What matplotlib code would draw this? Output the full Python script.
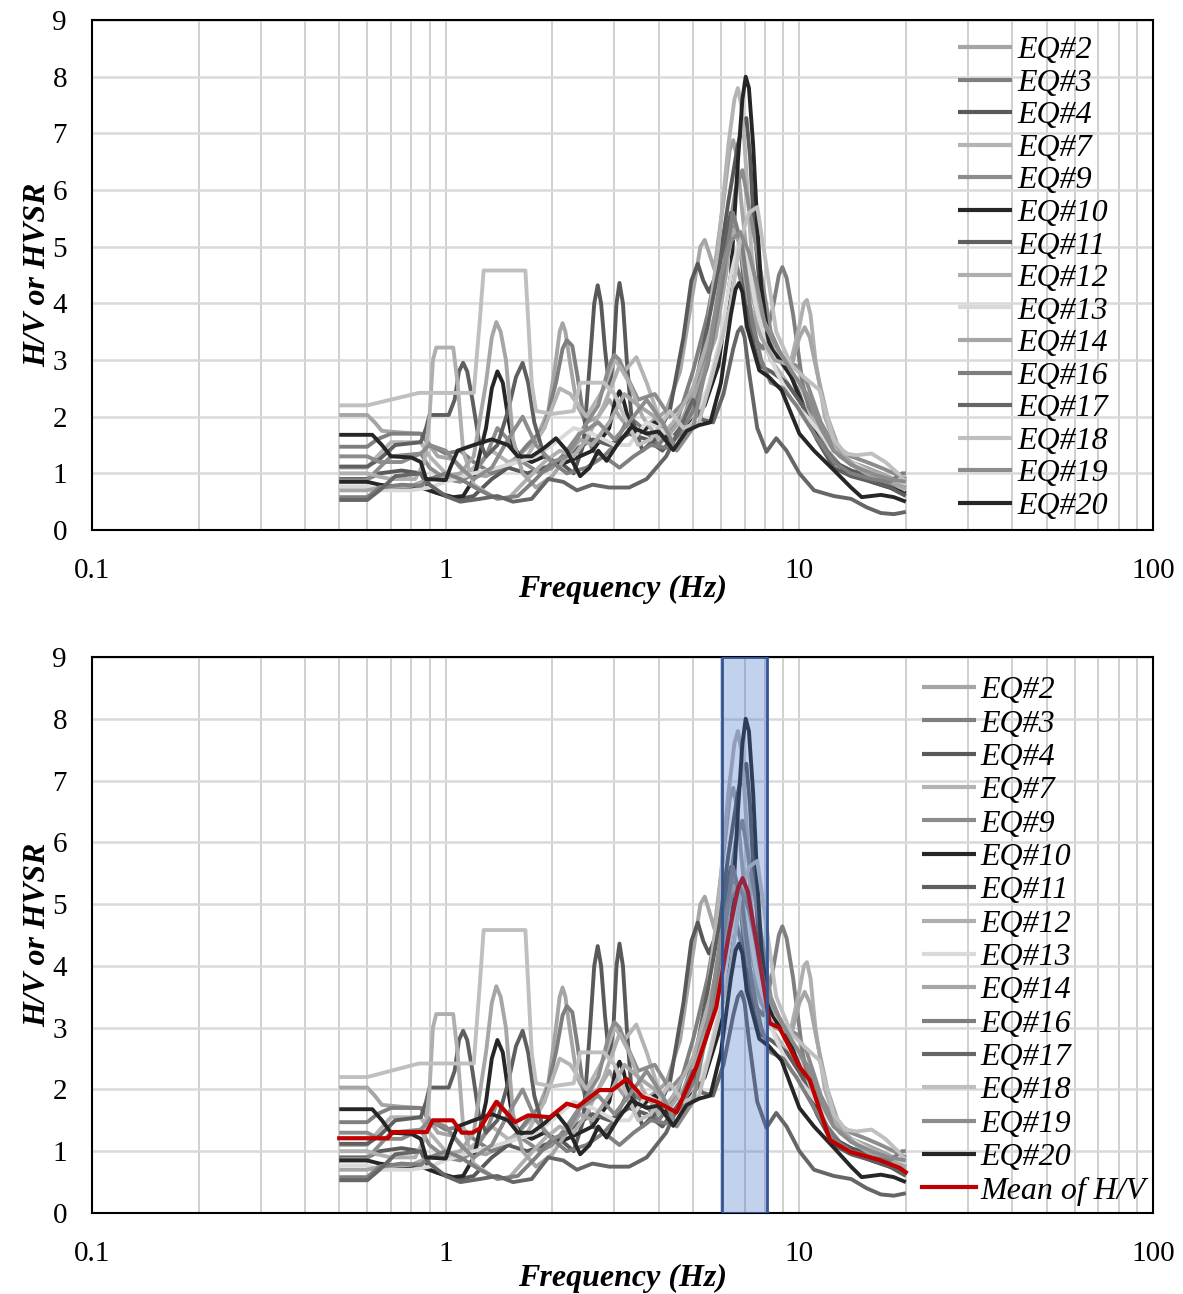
"""
H/V spectral ratio curves for the recorded events, with the mean H/V
and the predominant-frequency band highlighted in the lower panel.
"""

import matplotlib
matplotlib.use("Agg")
import matplotlib.pyplot as plt
from matplotlib.ticker import FixedLocator, LogLocator, NullFormatter

plt.rcParams["font.family"] = ["Liberation Serif", "DejaVu Serif"]

# ---------------------------------------------------------------------------
# Data (frequency in Hz, H/V amplitude)
# ---------------------------------------------------------------------------

eq_names = ["EQ#2", "EQ#3", "EQ#4", "EQ#7", "EQ#9", "EQ#10", "EQ#11", "EQ#12",
            "EQ#13", "EQ#14", "EQ#16", "EQ#17", "EQ#18", "EQ#19", "EQ#20"]

eq_colors = ["#a5a5a5", "#7f7f7f", "#595959", "#b4b4b4", "#8c8c8c", "#262626",
             "#5f5f5f", "#afafaf", "#d9d9d9", "#a6a6a6", "#7f7f7f", "#666666",
             "#bfbfbf", "#8c8c8c", "#262626"]

eq2 = [(0.5, 2.03), (0.6, 2.03), (0.63, 1.9), (0.66, 1.75), (0.75, 1.72), (0.85, 1.7),
       (0.9, 1.5), (0.95, 1.3), (1.05, 1.25), (1.15, 1.0), (1.3, 0.95), (1.45, 1.1),
       (1.6, 1.3), (1.8, 1.6), (1.95, 2.1), (2.05, 3.0), (2.1, 3.5), (2.14, 3.65),
       (2.18, 3.5), (2.24, 3.0), (2.35, 2.2), (2.5, 1.9), (2.7, 2.0), (2.9, 2.3),
       (3.1, 2.0), (3.4, 1.7), (3.8, 1.9), (4.2, 2.1), (4.6, 2.8), (5.0, 4.2),
       (5.25, 5.0), (5.4, 5.12), (5.55, 4.9), (5.75, 4.6), (6.1, 5.8), (6.35, 6.7),
       (6.5, 6.88), (6.65, 6.6), (6.9, 5.6), (7.3, 4.2), (7.8, 3.5), (8.4, 3.2),
       (9.0, 3.0), (10.0, 2.6), (11.0, 2.0), (12.5, 1.4), (14, 1.2), (15.5, 1.1),
       (17, 1.0), (18.5, 0.9), (20, 0.8)]

eq3 = [(0.5, 1.47), (0.6, 1.47), (0.64, 1.6), (0.7, 1.7), (0.85, 1.7), (0.9, 1.5),
       (1.0, 1.35), (1.1, 1.4), (1.2, 1.2), (1.35, 1.0), (1.5, 1.1), (1.7, 1.5),
       (1.9, 1.8), (2.05, 2.6), (2.14, 3.2), (2.2, 3.35), (2.28, 3.25), (2.36, 2.7),
       (2.45, 2.0), (2.6, 1.4), (2.8, 1.3), (3.0, 1.5), (3.3, 2.0), (3.6, 1.8),
       (4.0, 1.5), (4.5, 1.9), (5.0, 2.8), (5.5, 3.8), (5.9, 4.8), (6.2, 5.24),
       (6.5, 4.9), (6.9, 4.3), (7.4, 3.4), (7.9, 3.2), (8.4, 3.9), (8.75, 4.5),
       (8.95, 4.64), (9.2, 4.45), (9.6, 3.8), (10.2, 2.6), (11, 1.8), (12, 1.4),
       (13, 1.15), (14.5, 1.0), (16, 0.9), (18, 0.8), (20, 0.75)]

eq4 = [(0.5, 0.9), (0.6, 0.9), (0.65, 1.0), (0.75, 1.05), (0.85, 1.0), (0.9, 0.7),
       (1.0, 0.6), (1.1, 0.55), (1.2, 0.6), (1.35, 0.9), (1.5, 1.1), (1.7, 1.0),
       (1.9, 1.1), (2.1, 1.2), (2.3, 1.0), (2.45, 1.5), (2.56, 3.0), (2.63, 4.0),
       (2.69, 4.32), (2.75, 4.0), (2.82, 3.2), (2.9, 2.5), (2.98, 3.0), (3.04, 4.0),
       (3.1, 4.36), (3.17, 4.0), (3.25, 3.0), (3.35, 2.0), (3.6, 1.4), (3.9, 1.6),
       (4.3, 2.1), (4.7, 3.4), (4.95, 4.4), (5.16, 4.7), (5.35, 4.4), (5.55, 4.2),
       (5.9, 4.6), (6.3, 5.8), (6.7, 6.8), (6.95, 7.2), (7.08, 7.27), (7.25, 6.6),
       (7.4, 5.6), (7.8, 4.0), (8.3, 3.3), (9.0, 3.0), (10, 2.4), (11, 1.7),
       (12.5, 1.2), (14, 1.05), (16, 0.95), (18, 0.85), (20, 0.75)]

eq7 = [(0.5, 1.1), (0.6, 1.1), (0.64, 1.3), (0.7, 1.55), (0.85, 1.55), (0.9, 1.3),
       (1.0, 1.0), (1.1, 0.9), (1.2, 1.1), (1.35, 1.4), (1.5, 1.2), (1.7, 1.3),
       (1.9, 1.8), (2.1, 2.5), (2.25, 2.4), (2.5, 2.0), (2.8, 2.5), (3.0, 3.0),
       (3.2, 2.8), (3.46, 3.05), (3.7, 2.6), (4.0, 2.0), (4.4, 1.6), (4.9, 2.0),
       (5.4, 3.2), (5.9, 5.0), (6.3, 6.8), (6.55, 7.6), (6.7, 7.8), (6.85, 7.5),
       (7.0, 6.8), (7.3, 5.0), (7.7, 3.6), (8.3, 3.0), (9, 2.7), (10, 2.3),
       (11, 1.9), (12, 1.6), (13, 1.3), (14.5, 1.1), (16, 1.0), (18, 0.9), (20, 0.8)]

eq9 = [(0.5, 0.88), (0.6, 0.88), (0.65, 1.1), (0.7, 1.3), (0.85, 1.35), (0.9, 1.1),
       (1.0, 0.9), (1.1, 0.85), (1.2, 1.0), (1.3, 1.3), (1.4, 1.8), (1.5, 1.6),
       (1.65, 1.2), (1.85, 1.0), (2.0, 1.1), (2.2, 1.4), (2.45, 1.8), (2.7, 2.2),
       (2.9, 2.9), (3.0, 3.09), (3.1, 3.0), (3.2, 2.8), (3.5, 2.3), (3.9, 2.4),
       (4.3, 2.0), (4.8, 2.3), (5.3, 2.8), (5.8, 3.8), (6.3, 5.2), (6.6, 6.0),
       (6.9, 6.35), (7.3, 5.5), (7.8, 4.5), (8.3, 3.5), (9, 3.0), (9.8, 2.9),
       (10.5, 2.6), (11.5, 1.9), (12.5, 1.5), (14, 1.3), (15.5, 1.2), (17, 1.1),
       (18.5, 1.0), (20, 0.9)]

eq10 = [(0.5, 0.85), (0.6, 0.85), (0.65, 0.8), (0.75, 0.75), (0.85, 0.75), (0.95, 0.65),
        (1.05, 0.58), (1.12, 0.6), (1.2, 0.9), (1.3, 1.8), (1.35, 2.5), (1.4, 2.8),
        (1.45, 2.6), (1.5, 2.0), (1.55, 1.5), (1.62, 1.3), (1.75, 1.2), (1.9, 1.3),
        (2.1, 1.15), (2.3, 1.25), (2.6, 1.4), (2.9, 1.8), (3.02, 2.3), (3.1, 2.45),
        (3.18, 2.3), (3.3, 1.9), (3.5, 1.7), (3.9, 1.9), (4.3, 1.6), (4.8, 1.8),
        (5.4, 2.2), (5.9, 2.9), (6.4, 4.5), (6.7, 6.5), (6.9, 7.6), (7.05, 8.0),
        (7.2, 7.8), (7.4, 6.8), (7.6, 5.4), (7.8, 4.3), (8.2, 3.3), (8.8, 3.0),
        (9.5, 2.7), (10.5, 2.0), (11.5, 1.5), (12.5, 1.2), (14, 1.0), (16, 0.85),
        (18, 0.75), (20, 0.65)]

eq11 = [(0.5, 1.12), (0.6, 1.12), (0.65, 1.25), (0.72, 1.5), (0.85, 1.55), (0.88, 1.8),
        (0.9, 2.03), (1.02, 2.03), (1.06, 2.3), (1.09, 2.8), (1.12, 2.95), (1.15, 2.8),
        (1.19, 2.3), (1.24, 1.6), (1.3, 1.3), (1.4, 1.5), (1.5, 2.1), (1.58, 2.7),
        (1.65, 2.95), (1.71, 2.6), (1.78, 1.9), (1.9, 1.3), (2.05, 1.2), (2.3, 1.4),
        (2.6, 1.6), (2.9, 1.5), (3.3, 1.7), (3.7, 1.6), (4.1, 1.4), (4.6, 1.8),
        (5.1, 2.6), (5.5, 3.6), (6.0, 4.8), (6.4, 5.6), (6.8, 5.0), (7.2, 3.6),
        (7.7, 2.9), (8.3, 2.8), (9.2, 2.6), (10.2, 2.2), (11.2, 1.6), (12.5, 1.1),
        (14, 0.95), (16, 0.85), (18, 0.75), (20, 0.6)]

eq12 = [(0.5, 1.0), (0.6, 1.0), (0.64, 0.95), (0.7, 0.9), (0.82, 0.9), (0.87, 1.2),
        (0.9, 2.0), (0.92, 3.0), (0.94, 3.22), (1.05, 3.22), (1.08, 2.6), (1.12, 1.4),
        (1.2, 0.8), (1.35, 0.6), (1.5, 0.55), (1.7, 0.9), (1.9, 1.2), (2.1, 1.4),
        (2.3, 1.3), (2.5, 1.6), (2.8, 2.2), (3.1, 2.9), (3.3, 2.6), (3.6, 2.0),
        (4.0, 1.6), (4.4, 1.9), (5.0, 2.5), (5.6, 3.5), (6.0, 4.2), (6.5, 5.3),
        (6.9, 5.0), (7.3, 4.4), (7.8, 3.8), (8.6, 3.2), (9.4, 2.9), (10.0, 3.6),
        (10.3, 4.0), (10.5, 4.06), (10.75, 3.8), (11.1, 3.0), (11.8, 2.0), (13, 1.3),
        (15, 1.1), (17, 0.95), (20, 0.7)]

eq13 = [(0.5, 0.77), (0.6, 0.77), (0.65, 0.7), (0.8, 0.7), (0.9, 0.75), (1.0, 0.85),
        (1.2, 1.0), (1.4, 1.1), (1.6, 1.2), (1.8, 1.3), (2.0, 1.5), (2.3, 1.8),
        (2.6, 1.7), (3.0, 1.5), (3.3, 1.5), (3.7, 1.9), (4.0, 1.8), (4.5, 1.6),
        (5.0, 1.9), (5.5, 2.5), (6.0, 3.4), (6.4, 4.5), (6.8, 5.2), (7.1, 4.9),
        (7.5, 4.0), (8.0, 3.3), (8.6, 2.8), (9.5, 2.3), (10.5, 2.0), (11.5, 1.7),
        (12.5, 1.4), (14, 1.2), (16, 1.0), (18, 0.9), (20, 0.8)]

eq14 = [(0.5, 0.7), (0.6, 0.7), (0.65, 0.75), (0.8, 0.78), (0.9, 0.9), (1.0, 0.95),
        (1.1, 1.0), (1.2, 1.3), (1.3, 2.6), (1.35, 3.4), (1.39, 3.67), (1.43, 3.5),
        (1.48, 3.0), (1.55, 1.6), (1.65, 1.0), (1.8, 0.75), (2.0, 0.95), (2.2, 1.3),
        (2.4, 1.6), (2.6, 1.5), (2.9, 1.9), (3.2, 2.4), (3.5, 2.2), (3.9, 2.0),
        (4.3, 1.7), (4.7, 2.0), (5.2, 2.6), (5.8, 3.4), (6.2, 4.5), (6.48, 5.6),
        (6.8, 5.0), (7.2, 4.0), (7.8, 3.4), (8.5, 3.0), (9.5, 2.9), (10.0, 3.4),
        (10.35, 3.58), (10.7, 3.4), (11.2, 2.8), (12, 2.0), (13, 1.4), (14.5, 1.1),
        (16, 0.95), (18, 0.85), (20, 0.75)]

eq16 = [(0.5, 0.58), (0.6, 0.58), (0.65, 0.75), (0.75, 0.8), (0.85, 0.78), (0.9, 0.9),
        (1.0, 1.0), (1.1, 0.9), (1.25, 0.7), (1.4, 0.55), (1.6, 0.6), (1.8, 0.9),
        (2.0, 1.2), (2.2, 1.0), (2.5, 1.1), (2.8, 1.3), (3.1, 1.1), (3.4, 1.3),
        (3.8, 1.5), (4.2, 1.45), (4.6, 1.7), (5.0, 2.1), (5.5, 2.9), (6.0, 4.2),
        (6.48, 5.6), (6.9, 5.0), (7.3, 3.8), (7.8, 3.0), (8.3, 2.6), (9, 2.5),
        (9.8, 2.2), (11, 1.7), (12.5, 1.2), (14, 1.0), (16, 0.9), (18, 0.85),
        (19.5, 1.0), (20, 1.0)]

eq17 = [(0.5, 0.53), (0.6, 0.53), (0.65, 0.7), (0.72, 0.95), (0.85, 1.0), (0.9, 0.8),
        (1.0, 0.6), (1.1, 0.5), (1.25, 0.55), (1.4, 0.6), (1.55, 0.5), (1.75, 0.55),
        (1.95, 0.9), (2.15, 0.85), (2.35, 0.7), (2.6, 0.8), (2.9, 0.75), (3.3, 0.75),
        (3.7, 0.9), (4.2, 1.3), (4.6, 1.8), (5.0, 2.3), (5.3, 1.95), (5.7, 1.9),
        (6.1, 2.4), (6.5, 3.2), (6.7, 3.5), (6.85, 3.58), (7.0, 3.4), (7.2, 2.8),
        (7.6, 1.8), (8.07, 1.38), (8.6, 1.62), (9.2, 1.4), (10, 1.0), (11, 0.7),
        (12.5, 0.6), (14, 0.55), (15.5, 0.4), (17, 0.3), (18.5, 0.28), (20, 0.32)]

eq18 = [(0.5, 2.2), (0.6, 2.2), (0.84, 2.42), (0.92, 2.42), (1.2, 2.42), (1.25, 3.74),
        (1.28, 4.58), (1.68, 4.58), (1.75, 2.6), (1.8, 2.1), (2.0, 2.05), (2.3, 2.1),
        (2.4, 2.6), (2.8, 2.6), (3.0, 2.4), (3.2, 2.0), (3.5, 1.5), (3.8, 1.6),
        (4.3, 2.1), (4.7, 1.8), (5.2, 1.9), (5.6, 2.6), (6.0, 3.3), (6.4, 4.0),
        (6.8, 5.1), (7.2, 5.6), (7.6, 5.7), (8.0, 4.8), (8.6, 3.5), (9.5, 2.9),
        (10.3, 2.7), (11.4, 2.47), (12.5, 1.6), (13.5, 1.35), (14.5, 1.32), (16, 1.35),
        (17.5, 1.2), (19, 1.0), (20, 0.85)]

eq19 = [(0.5, 1.3), (0.6, 1.3), (0.65, 1.2), (0.75, 1.2), (0.85, 1.35), (0.9, 1.5),
        (1.0, 1.4), (1.1, 1.1), (1.2, 0.9), (1.35, 1.1), (1.5, 1.6), (1.65, 2.0),
        (1.8, 1.5), (2.0, 1.2), (2.2, 1.3), (2.4, 1.7), (2.7, 1.9), (3.0, 1.6),
        (3.3, 1.9), (3.7, 2.3), (4.1, 1.9), (4.5, 1.4), (5.0, 1.8), (5.5, 3.0),
        (6.0, 4.5), (6.4, 5.1), (6.8, 5.26), (7.2, 4.9), (7.6, 4.3), (8.0, 3.6),
        (8.7, 3.2), (9.5, 2.8), (10.5, 2.4), (11.5, 1.8), (12.5, 1.4), (14, 1.15),
        (16, 1.0), (18, 0.9), (20, 0.85)]

eq20 = [(0.5, 1.68), (0.62, 1.68), (0.66, 1.5), (0.7, 1.3), (0.8, 1.28), (0.85, 1.2),
        (0.88, 0.9), (1.0, 0.88), (1.03, 1.1), (1.08, 1.4), (1.2, 1.5), (1.35, 1.6),
        (1.5, 1.5), (1.6, 1.3), (1.75, 1.3), (1.9, 1.45), (2.05, 1.62), (2.2, 1.4),
        (2.4, 0.95), (2.55, 1.1), (2.7, 1.4), (2.85, 1.22), (3.05, 1.5), (3.35, 1.82),
        (3.7, 1.7), (4.0, 1.74), (4.4, 1.41), (4.8, 1.75), (5.2, 1.85), (5.6, 1.9),
        (6.0, 2.6), (6.4, 3.8), (6.6, 4.25), (6.75, 4.36), (6.9, 4.2), (7.1, 3.6),
        (7.7, 2.82), (8.2, 2.7), (8.9, 2.47), (10, 1.7), (11, 1.4), (12.5, 1.06),
        (14, 0.75), (15, 0.58), (17, 0.62), (18.5, 0.58), (20, 0.5)]

eq_curves = [eq2, eq3, eq4, eq7, eq9, eq10, eq11, eq12, eq13, eq14, eq16, eq17,
             eq18, eq19, eq20]

mean_freq = [0.5, 0.686, 0.708, 0.884, 0.919, 1.047, 1.11, 1.19, 1.25, 1.39, 1.57,
             1.71, 1.97, 2.20, 2.36, 2.72, 2.96, 3.25, 3.60, 3.95, 4.49, 5.12, 5.82,
             6.35, 6.7, 6.91, 7.15, 7.71, 8.24, 8.78, 10.0, 10.7, 12.2, 13.9, 16.8,
             19.2, 20.0]
mean_hv = [1.21, 1.21, 1.31, 1.31, 1.5, 1.5, 1.3, 1.3, 1.37, 1.8, 1.47, 1.58, 1.55,
           1.77, 1.72, 1.99, 1.99, 2.17, 1.88, 1.8, 1.63, 2.37, 3.33, 4.58, 5.25,
           5.42, 5.2, 4.1, 3.07, 3.0, 2.37, 2.15, 1.18, 0.99, 0.86, 0.73, 0.66]

band_lo, band_hi = 6.03, 8.08

# ---------------------------------------------------------------------------
# Drawing
# ---------------------------------------------------------------------------

FS_TICK = 21
FS_LABEL = 23
FS_LEGEND = 23


def _style_axes(ax, xlabelpad):
    ax.set_xscale("log")
    ax.set_xlim(0.1, 100)
    ax.set_ylim(0, 9)
    ax.xaxis.set_major_locator(FixedLocator([0.1, 1, 10, 100]))
    ax.set_xticklabels(["0.1", "1", "10", "100"])
    ax.xaxis.set_minor_locator(LogLocator(base=10, subs=range(2, 10)))
    ax.xaxis.set_minor_formatter(NullFormatter())
    ax.set_yticks(range(10))
    ax.grid(which="both", axis="x", color="#cccccc", lw=1.3, zorder=0)
    ax.grid(which="major", axis="y", color="#d9d9d9", lw=1.8, zorder=0)
    ax.set_axisbelow(True)
    ax.tick_params(which="both", length=0, labelsize=FS_TICK)
    ax.tick_params(axis="x", pad=20)
    ax.tick_params(axis="y", pad=18)
    for sp in ax.spines.values():
        sp.set_color("black")
        sp.set_linewidth(1.5)
    ax.set_xlabel("Frequency (Hz)", fontsize=FS_LABEL, fontweight="bold",
                  fontstyle="italic", labelpad=xlabelpad)
    ax.set_ylabel("H/V or HVSR", fontsize=FS_LABEL, fontweight="bold",
                  fontstyle="italic", labelpad=0)


def _draw_curves(ax):
    for name, col, pts in zip(eq_names, eq_colors, eq_curves):
        f = [p[0] for p in pts]
        v = [p[1] for p in pts]
        ax.plot(f, v, color=col, lw=2.8, label=name, zorder=2,
                solid_joinstyle="round", solid_capstyle="butt")


def _legend(ax, x0, y0, spacing):
    leg = ax.legend(loc="upper left", bbox_to_anchor=(x0, y0), frameon=False,
                    prop={"style": "italic", "size": FS_LEGEND},
                    handlelength=1.7, handletextpad=0.15, labelspacing=spacing,
                    borderaxespad=0.0, borderpad=0.0)
    for h in leg.get_lines():
        h.set_linewidth(3.0)
    return leg


fig = plt.figure(figsize=(11.83, 12.94), dpi=100)
ax1 = fig.add_axes([0.0778, 0.5904, 0.8969, 0.3941])
ax2 = fig.add_axes([0.0778, 0.0626, 0.8969, 0.4297])

_draw_curves(ax1)
_style_axes(ax1, -6.5)
_legend(ax1, 0.816, 0.969, 0.1)

_draw_curves(ax2)
ax2.plot(mean_freq, mean_hv, color="#c00000", lw=3.0, label="Mean of H/V", zorder=3,
         solid_joinstyle="round")
ax2.axvspan(band_lo, band_hi, facecolor=(0.267, 0.447, 0.769, 0.32),
            edgecolor="#2f5597", lw=2, zorder=4)
_style_axes(ax2, -2)
_legend(ax2, 0.782, 0.966, 0.125)

fig.savefig("out.png", dpi=100)
